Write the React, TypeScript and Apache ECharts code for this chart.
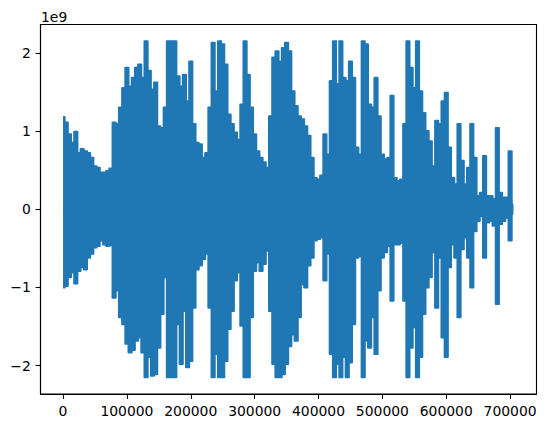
import React, { useEffect, useRef } from "react";
import * as echarts from "echarts";

// Waveform envelope, decimated into bins of 5000 samples (values in units of 1e9)
const binSize = 5000;
const upperE9 = [
  1.18, 1.11, 0.96, 0.85, 0.99, 0.72, 0.77, 0.74, 0.72, 0.66,
  0.55, 0.53, 0.47, 0.47, 0.49, 0.52, 1.11, 1.09, 1.30, 1.55,
  1.81, 1.57, 1.68, 1.81, 1.85, 1.68, 2.147, 1.77, 1.53, 1.62,
  1.06, 1.04, 1.30, 2.147, 2.147, 2.147, 1.70, 1.57, 1.72, 1.38,
  1.89, 1.09, 0.85, 0.83, 0.66, 0.72, 1.30, 2.13, 1.51, 2.147,
  2.11, 1.85, 1.21, 1.09, 0.98, 0.89, 1.34, 2.147, 1.72, 1.30,
  0.96, 0.74, 0.66, 0.60, 0.53, 1.19, 1.94, 2.02, 1.89, 2.06,
  2.13, 2.02, 1.51, 1.32, 1.19, 1.15, 1.06, 0.94, 0.66, 0.40,
  0.38, 0.43, 0.96, 0.70, 1.64, 2.147, 1.60, 2.147, 1.68, 1.64,
  1.89, 1.68, 0.79, 0.70, 2.147, 2.11, 1.34, 1.30, 1.68, 1.19,
  0.70, 0.64, 0.66, 1.45, 0.40, 0.36, 0.38, 1.09, 2.147, 1.81,
  1.55, 2.147, 1.51, 1.23, 1.00, 0.87, 0.55, 1.13, 1.09, 1.38,
  1.49, 0.79, 0.40, 0.32, 1.09, 0.62, 0.32, 0.53, 1.09, 0.66,
  0.17, 0.21, 0.68, 0.17, 0.17, 0.13, 1.04, 0.21, 0.15, 0.15,
  0.74, 0.06,
];
const lowerE9 = [
  -1.00, -0.98, -0.87, -0.81, -0.95, -0.79, -0.74, -0.77, -0.62, -0.57,
  -0.49, -0.47, -0.40, -0.45, -0.47, -0.46, -1.13, -1.04, -1.38, -1.47,
  -1.72, -1.83, -1.80, -1.68, -1.64, -1.83, -2.147, -1.89, -2.13, -2.11,
  -1.77, -1.34, -0.87, -2.147, -2.147, -2.147, -1.47, -1.98, -1.30, -2.02,
  -1.94, -1.26, -0.77, -0.72, -0.64, -0.57, -1.26, -2.147, -1.85, -2.147,
  -2.147, -1.94, -1.53, -1.30, -0.91, -0.81, -1.49, -2.147, -2.147, -1.38,
  -0.79, -0.68, -0.79, -0.70, -0.53, -1.30, -1.98, -2.147, -2.147, -2.11,
  -1.98, -1.75, -1.60, -1.68, -1.38, -0.96, -1.00, -0.72, -0.62, -0.40,
  -0.38, -0.36, -0.91, -0.57, -1.85, -2.147, -1.98, -2.147, -1.89, -2.147,
  -1.96, -1.47, -0.62, -0.60, -2.147, -1.68, -1.77, -1.38, -1.85, -1.04,
  -0.62, -0.55, -0.47, -1.17, -0.45, -0.45, -0.43, -1.17, -2.147, -1.77,
  -1.51, -2.147, -1.89, -1.34, -1.00, -0.87, -0.55, -1.26, -0.62, -1.64,
  -1.89, -0.74, -0.45, -0.62, -1.38, -0.51, -0.36, -0.62, -1.00, -0.28,
  -0.15, -0.09, -0.62, -0.17, -0.15, -0.21, -1.21, -0.19, -0.15, -0.11,
  -0.40, -0.06,
];
const xTicks = [0, 100000, 200000, 300000, 400000, 500000, 600000, 700000];
const yTicks = [-2, -1, 0, 1, 2];
const yOffsetText = "1e9";

const BLUE = "#1f77b4";
const FONT = "DejaVu Sans";
const FS = 13.9;

export default function App() {
  const ref = useRef<HTMLDivElement>(null);
  useEffect(() => {
    if (!ref.current) return;
    const chart = echarts.init(ref.current, null, { renderer: "svg" });
    const upperData = upperE9.map((v, i) => [i * binSize, v]);
    const lowerData = lowerE9.map((v, i) => [i * binSize, v]);
    const axisCommon = {
      axisLine: { show: true, onZero: false, lineStyle: { color: "#000", width: 1.1 } },
      splitLine: { show: false },
    };
    const waveSeries = (data: number[][], origin: number) => ({
      type: "line",
      data,
      step: "middle",
      showSymbol: false,
      symbol: "none",
      lineStyle: { color: BLUE, width: 2, join: "round" },
      areaStyle: { color: BLUE, opacity: 1, origin },
      itemStyle: { color: BLUE },
    });
    chart.setOption({
      animation: false,
      backgroundColor: "#fff",
      grid: {
        left: 40.5,
        top: 24.5,
        width: 496,
        height: 369.5,
        show: true,
        borderColor: "#000",
        borderWidth: 1.1,
        backgroundColor: "transparent",
      },
      xAxis: {
        type: "value",
        min: -35300,
        max: 741300,
        ...axisCommon,
        axisTick: {
          show: true,
          length: 4.9,
          lineStyle: { color: "#000", width: 1.1 },
          customValues: xTicks,
        },
        axisLabel: {
          customValues: xTicks,
          margin: 9.7,
          color: "#000",
          fontFamily: FONT,
          fontSize: FS,
          formatter: (v: number) => String(v),
        },
      },
      yAxis: {
        type: "value",
        min: -2.362,
        max: 2.362,
        ...axisCommon,
        axisTick: {
          show: true,
          length: 4.9,
          lineStyle: { color: "#000", width: 1.1 },
          customValues: yTicks,
        },
        axisLabel: {
          customValues: yTicks,
          margin: 9.7,
          color: "#000",
          fontFamily: FONT,
          fontSize: FS,
          formatter: (v: number) => (v < 0 ? "\u2212" + Math.abs(v) : String(v)),
        },
      },
      graphic: [
        {
          type: "text",
          left: 41,
          top: 9.5,
          style: { text: yOffsetText, fill: "#000", font: `${FS}px "${FONT}"` },
        },
      ],
      series: [waveSeries(upperData, -0.03), waveSeries(lowerData, 0.03)],
    });
    return () => chart.dispose();
  }, []);
  return (
    <div
      ref={ref}
      style={{ position: "fixed", left: 0, top: 0, width: 546, height: 428 }}
    />
  );
}
